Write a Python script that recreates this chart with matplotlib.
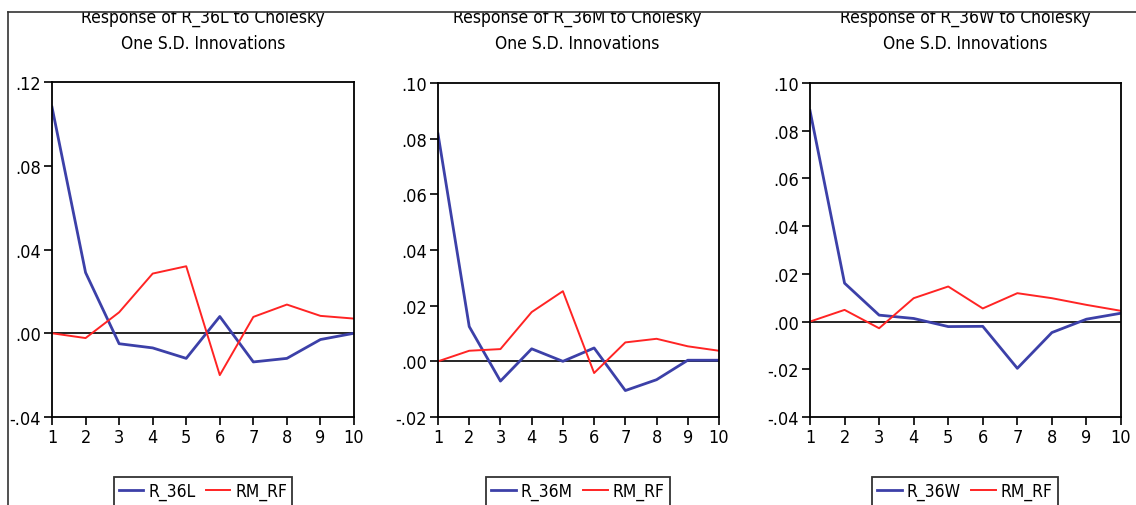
import matplotlib
matplotlib.use("Agg")
import matplotlib.pyplot as plt
from matplotlib import font_manager as fm
from matplotlib.patches import Rectangle
from matplotlib.lines import Line2D

# ---------------------------------------------------------------------------
# Data
# ---------------------------------------------------------------------------
periods = [1, 2, 3, 4, 5, 6, 7, 8, 9, 10]

r36l = [0.108, 0.029, -0.005, -0.007, -0.012, 0.008, -0.0137, -0.012, -0.003, 0.0]
rmrf_l = [0.0, -0.0023, 0.010, 0.0285, 0.032, -0.020, 0.0078, 0.0137, 0.0083, 0.007]

r36m = [0.0817, 0.0125, -0.0071, 0.0045, 0.0, 0.0048, -0.0105, -0.0066, 0.0004, 0.0004]
rmrf_m = [0.0, 0.0038, 0.0044, 0.0177, 0.0252, -0.0042, 0.0068, 0.0081, 0.0054, 0.0038]

r36w = [0.0884, 0.0161, 0.0027, 0.0013, -0.0021, -0.002, -0.0196, -0.0046, 0.001, 0.0035]
rmrf_w = [0.0, 0.0049, -0.0028, 0.0098, 0.0147, 0.0055, 0.0119, 0.0098, 0.007, 0.0045]

yticks_l = [-0.04, 0.0, 0.04, 0.08, 0.12]
yticks_m = [-0.02, 0.0, 0.02, 0.04, 0.06, 0.08, 0.10]
yticks_w = [-0.04, -0.02, 0.0, 0.02, 0.04, 0.06, 0.08, 0.10]

panels = [
    ("R_36L", r36l, rmrf_l, yticks_l),
    ("R_36M", r36m, rmrf_m, yticks_m),
    ("R_36W", r36w, rmrf_w, yticks_w),
]

BLUE = "#3c40a8"
RED = "#ff2424"

W, H = 1136, 506
# axes boxes in pixels: left, right, top, bottom
boxes = [(52, 354, 83, 418), (438, 719, 84, 418), (810, 1121, 84, 418)]
title_x = [203, 577, 965]
legend_x = [203, 578, 965]


def pick_narrow_font():
    """Look for an installed narrow / condensed sans face (EViews look)."""
    prefs = ["Liberation Sans Narrow", "Arial Narrow", "DejaVu Sans",
             "Roboto Condensed", "Noto Sans", "Open Sans"]
    found = []
    for f in fm.fontManager.ttflist:
        st = str(f.stretch).lower()
        narrow = ("narrow" in f.name.lower() or "condensed" in st
                  or "condensed" in f.fname.lower() or "narrow" in f.fname.lower())
        if narrow and f.style == "normal" and f.weight in (400, "normal", "regular"):
            found.append(f)
    for p in prefs:
        for f in found:
            if f.name == p:
                return f
    return found[0] if found else None


narrow = pick_narrow_font()
plt.rcParams["font.family"] = ["DejaVu Sans"]


def text_props(size):
    if narrow is not None:
        return fm.FontProperties(fname=narrow.fname, size=size)
    return fm.FontProperties(family="DejaVu Sans", size=size - 1)


def fmt(v):
    s = f"{v:.2f}"
    return s.replace("0.", ".", 1)


fig = plt.figure(figsize=(W / 100, H / 100), dpi=100)
tp_tick = text_props(13)
tp_title = text_props(12.5)
tp_leg = text_props(12.5)

for (name, resp, shock, yt), (l, r, t, b), tx, lx in zip(panels, boxes, title_x, legend_x):
    ax = fig.add_axes([l / W, 1 - b / H, (r - l) / W, (b - t) / H])
    ax.plot(periods, resp, color=BLUE, lw=2.0, label=name)
    ax.plot(periods, shock, color=RED, lw=1.4, label="RM_RF")
    ax.axhline(0, color="black", lw=1.2, zorder=1)
    ax.set_xlim(1, 10)
    ax.set_ylim(yt[0], yt[-1])
    ax.set_xticks(periods)
    ax.set_xticklabels([str(p) for p in periods], fontproperties=tp_tick)
    ax.set_yticks(yt)
    ax.set_yticklabels([fmt(v) for v in yt], fontproperties=tp_tick)
    ax.tick_params(direction="out", length=6, width=1.2, pad=2)
    for sp in ax.spines.values():
        sp.set_linewidth(1.3)

    fig.text(tx / W, 1 - 18 / H, f"Response of {name} to Cholesky",
             ha="center", va="center", fontproperties=tp_title)
    fig.text(tx / W, 1 - 44 / H, "One S.D. Innovations",
             ha="center", va="center", fontproperties=tp_title)

    leg = fig.legend(handles=ax.get_lines()[:2], loc="upper center",
                     bbox_to_anchor=(lx / W, 1 - 478 / H), borderaxespad=0,
                     ncol=2, prop=tp_leg, frameon=True, fancybox=False,
                     edgecolor="black", handlelength=1.4, handletextpad=0.3,
                     columnspacing=0.6, borderpad=0.3)
    leg.get_frame().set_linewidth(1.3)

# clip the top of the titles and draw the outer frame lines
fig.add_artist(Rectangle((0, 1 - 13 / H), 1, 13 / H, transform=fig.transFigure,
                         facecolor="white", edgecolor="none", zorder=20))
fig.add_artist(Line2D([8 / W, 1], [1 - 13 / H, 1 - 13 / H], transform=fig.transFigure,
                      color="#333333", lw=1.2, zorder=21))
fig.add_artist(Line2D([8 / W, 8 / W], [0, 1 - 13 / H], transform=fig.transFigure,
                      color="#333333", lw=1.2, zorder=21))

fig.savefig("out.png", dpi=100)
